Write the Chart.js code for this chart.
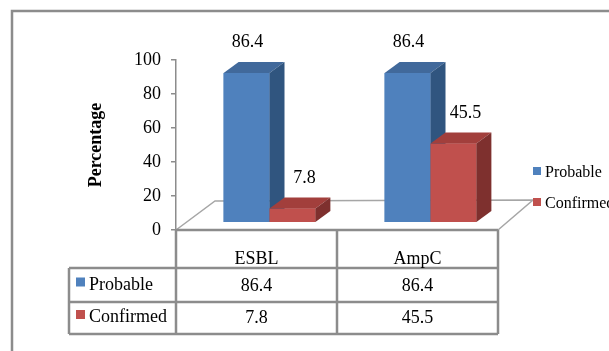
<!DOCTYPE html>
<html>
<head>
<meta charset="utf-8">
<script src="https://cdn.jsdelivr.net/npm/chart.js@4.4.1/dist/chart.umd.min.js"></script>
<style>
  html, body { margin: 0; padding: 0; background: #fff; }
  canvas { display: block; }
</style>
</head>
<body>
<canvas id="chart" width="609" height="351"></canvas>
<script>
// ---- data ----
const categories = ['ESBL', 'AmpC'];
const seriesNames = ['Probable', 'Confirmed'];
const probable = [86.4, 86.4];
const confirmed = [7.8, 45.5];
const yTicks = [0, 20, 40, 60, 80, 100];
const axisTitle = 'Percentage';

// ---- styling ----
const FRONT = ['#4F81BD', '#C0504D'];
const TOP = ['#41699B', '#A23F3C'];
const SIDE = ['#30557F', '#7E302E'];
const SERIF = "'Liberation Serif', 'Times New Roman', serif";
const LINE = '#8c8c8c';
const SHIFT = { x: 13, y: -8 };   // bars stand at mid-depth of the floor
const DEPTH = { x: 15, y: -11 };  // depth of each column
const LABEL_DX = [1, 12];         // value label nudge per series

function poly(ctx, pts, fill) {
  ctx.beginPath();
  ctx.moveTo(pts[0][0], pts[0][1]);
  for (let i = 1; i < pts.length; i++) ctx.lineTo(pts[i][0], pts[i][1]);
  ctx.closePath();
  ctx.fillStyle = fill;
  ctx.fill();
}

// outer frame of the chart
const framePlugin = {
  id: 'frame',
  beforeDraw(chart) {
    const ctx = chart.ctx;
    ctx.save();
    ctx.fillStyle = '#fff';
    ctx.fillRect(0, 0, chart.width, chart.height);
    ctx.strokeStyle = LINE;
    ctx.lineWidth = 2.5;
    ctx.strokeRect(12, 11, chart.width + 20, chart.height + 20);
    ctx.restore();
  }
};

// floor, 3D columns, value labels, data table and legend
const columns3d = {
  id: 'columns3d',
  beforeDatasetsDraw(chart) {
    const { ctx, chartArea: a } = chart;
    ctx.save();
    ctx.strokeStyle = '#a6a6a6';
    ctx.lineWidth = 1.5;
    ctx.beginPath();
    ctx.moveTo(a.left, a.bottom);
    ctx.lineTo(a.left + 39, a.bottom - 29);
    ctx.lineTo(a.right + 35, a.bottom - 30);
    ctx.lineTo(a.right, a.bottom);
    ctx.stroke();
    ctx.restore();
    ctx.save();
    ctx.translate(SHIFT.x, SHIFT.y);
  },
  afterDatasetsDraw(chart) {
    const { ctx, chartArea: a } = chart;
    // paint columns back to front, series by series, so nearer columns hide the sides behind them
    chart.data.datasets.forEach((ds, i) => {
      chart.getDatasetMeta(i).data.forEach(el => {
        el.draw(ctx, a);
        const { x, y, base, width } = el.getProps(['x', 'y', 'base', 'width'], true);
        const x0 = x - width / 2, x1 = x + width / 2;
        poly(ctx, [[x0, y], [x1, y], [x1 + DEPTH.x, y + DEPTH.y], [x0 + DEPTH.x, y + DEPTH.y]], TOP[i]);
        poly(ctx, [[x1, y], [x1 + DEPTH.x, y + DEPTH.y], [x1 + DEPTH.x, base + DEPTH.y], [x1, base]], SIDE[i]);
      });
    });
    ctx.restore();

    ctx.save();
    ctx.font = '18px ' + SERIF;
    ctx.fillStyle = '#000';
    ctx.textAlign = 'center';
    ctx.textBaseline = 'alphabetic';

    // value labels above the columns
    chart.data.datasets.forEach((ds, i) => {
      chart.getDatasetMeta(i).data.forEach((el, j) => {
        ctx.fillText(String(ds.data[j]), el.x + SHIFT.x + LABEL_DX[i], el.y + SHIFT.y - 26);
      });
    });

    // data table
    const xs = chart.scales.x;
    const colMid = (xs.getPixelForValue(0) + xs.getPixelForValue(1)) / 2;
    const keyLeft = 69;
    const rows = [a.bottom, 268, 302, 334];
    ctx.strokeStyle = LINE;
    ctx.lineWidth = 2.5;
    ctx.beginPath();
    ctx.moveTo(a.left, a.bottom); ctx.lineTo(a.right, a.bottom);
    for (let r = 1; r < rows.length; r++) { ctx.moveTo(keyLeft, rows[r]); ctx.lineTo(a.right, rows[r]); }
    [a.left, colMid, a.right].forEach(cx => { ctx.moveTo(cx, a.bottom); ctx.lineTo(cx, rows[3]); });
    ctx.moveTo(keyLeft, rows[1]); ctx.lineTo(keyLeft, rows[3]);
    ctx.stroke();

    categories.forEach((c, j) => ctx.fillText(c, xs.getPixelForValue(j), 264));
    const rowBase = [290.5, 323];
    chart.data.datasets.forEach((ds, i) => {
      ds.data.forEach((v, j) => ctx.fillText(String(v), xs.getPixelForValue(j), rowBase[i]));
      ctx.fillStyle = FRONT[i];
      ctx.fillRect(76, rowBase[i] - 13, 9, 9);
      ctx.fillStyle = '#000';
      ctx.textAlign = 'left';
      ctx.fillText(ds.label, 89, rowBase[i] - 1);
      ctx.textAlign = 'center';
    });

    // legend on the right
    ctx.font = '16px ' + SERIF;
    ctx.textAlign = 'left';
    const legTop = [167, 198];
    chart.data.datasets.forEach((ds, i) => {
      ctx.fillStyle = FRONT[i];
      ctx.fillRect(533, legTop[i], 8, 8);
      ctx.fillStyle = '#000';
      ctx.fillText(ds.label, 545, legTop[i] + 10);
    });
    ctx.restore();
  }
};

new Chart(document.getElementById('chart'), {
  type: 'bar',
  data: {
    labels: categories,
    datasets: [
      { label: seriesNames[0], data: probable, backgroundColor: FRONT[0], yAxisID: 'yb', clip: false, borderWidth: 0 },
      { label: seriesNames[1], data: confirmed, backgroundColor: FRONT[1], yAxisID: 'yb', clip: false, borderWidth: 0 }
    ]
  },
  options: {
    responsive: false,
    animation: false,
    devicePixelRatio: 1,
    events: [],
    layout: { padding: { left: 0, top: 60, right: 111, bottom: 121 } },
    datasets: { bar: { categoryPercentage: 0.57, barPercentage: 1.0 } },
    plugins: { legend: { display: false }, tooltip: { enabled: false } },
    scales: {
      x: { display: false },
      y: {
        position: 'left',
        min: 0,
        max: 100,
        afterBuildTicks: s => { s.ticks = yTicks.map(v => ({ value: v })); },
        afterFit: s => { s.width = 176; },
        ticks: { font: { family: SERIF, size: 18 }, color: '#000', padding: 10 },
        grid: { drawOnChartArea: false, drawTicks: true, tickLength: 5, color: LINE, lineWidth: 1.5 },
        border: { display: true, color: LINE, width: 1.5 },
        title: {
          display: true,
          text: axisTitle,
          color: '#000',
          font: { family: SERIF, size: 18, weight: 'bold' },
          padding: { top: 86, bottom: 0 }
        }
      },
      // columns recede into the floor, so their scale is slightly compressed
      yb: { display: false, min: 0, max: 98.6 }
    }
  },
  plugins: [framePlugin, columns3d]
});
</script>
</body>
</html>
